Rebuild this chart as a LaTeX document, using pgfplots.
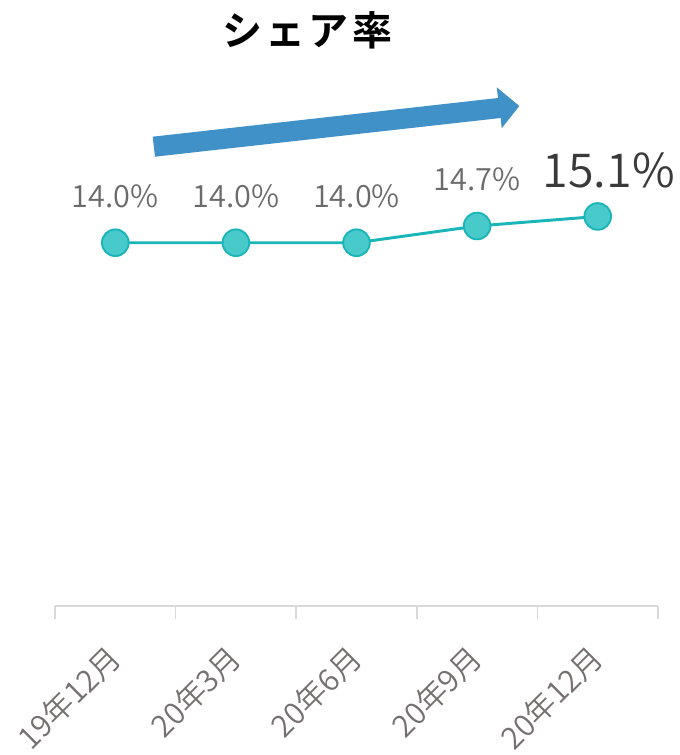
\documentclass[border=0pt]{standalone}
\usepackage{fontspec}
\usepackage{pgfplots}
\pgfplotsset{compat=1.18}
\setmainfont{Noto Sans CJK JP}
\newfontfamily\lightfont{Noto Sans CJK JP}[UprightFont={* DemiLight}]
\newfontfamily\boldcjk{Noto Sans CJK JP}[UprightFont={* Bold}]
\definecolor{linecol}{HTML}{1AB5B8}
\definecolor{markfill}{HTML}{48C9CA}
\definecolor{arrowblue}{HTML}{4191C9}
\definecolor{labgray}{HTML}{6B6B6B}
\definecolor{darklab}{HTML}{3A3A3A}
\definecolor{tickgray}{HTML}{767171}
\definecolor{axisgray}{HTML}{D9D9D9}

\begin{document}
\begin{tikzpicture}
% picture frame in pixels of the reference (1px = 0.75pt)
\begin{scope}[x=0.75pt, y=-0.75pt]
  \useasboundingbox (0,0) rectangle (679,755);
  \node[font=\boldcjk\fontsize{30pt}{30pt}\selectfont, text=black] at (307,30.5)
    {シ\hspace{2.5pt}ェ\hspace{2.5pt}ア\hspace{2.5pt}率};
  \fill[arrowblue] (155,156.7) -- (152.7,136.7) -- (498,98) -- (496.7,87.3)
    -- (519.3,106) -- (501.7,128.3) -- (500.7,118) -- cycle;
\end{scope}

\begin{axis}[
  at={(41.25pt,-454.5pt)}, anchor=south west,
  scale only axis, width=452.25pt, height=380pt,
  xmin=-0.5, xmax=4.5, ymin=-1.2, ymax=20,
  axis x line=bottom, axis y line=none,
  x axis line style={-, draw=axisgray, line width=1.3pt},
  xtick={0,...,4},
  xticklabels={19年12月,20年3月,20年6月,20年9月,20年12月},
  major tick length=0pt,
  minor xtick={-0.5,0.5,1.5,2.5,3.5,4.5},
  minor tick length=9.75pt,
  tick align=outside,
  minor tick style={draw=axisgray, line width=1.3pt},
  xticklabel style={font=\lightfont\fontsize{23pt}{23pt}\selectfont, text=tickgray,
    inner sep=0pt, yshift=-34.5pt, xshift=-0.5pt, rotate=45, anchor=east},
  clip=false,
]
\addplot[linecol, line width=2.2pt, mark=*, mark size=10pt,
  mark options={fill=markfill, draw=linecol, line width=1.4pt}]
  coordinates {(0,14.0) (1,14.0) (2,14.0) (3,14.7) (4,15.1)};
\addplot[draw=none, mark=none, point meta=y,
  nodes near coords={\pgfmathprintnumber[fixed,fixed zerofill,precision=1,assume math mode=true]{\pgfplotspointmeta}\%},
  every node near coord/.append style={font=\lightfont\fontsize{23pt}{23pt}\selectfont,
    text=labgray, anchor=base, inner sep=0pt, yshift=26.5pt}]
  coordinates {(0,14.0) (1,14.0) (2,14.0) (3,14.7)};
\addplot[draw=none, mark=none, point meta=y,
  nodes near coords={\pgfmathprintnumber[fixed,fixed zerofill,precision=1,assume math mode=true]{\pgfplotspointmeta}\%},
  every node near coord/.append style={font=\lightfont\fontsize{35pt}{35pt}\selectfont,
    text=darklab, anchor=base, inner sep=0pt, yshift=22pt, xshift=8.25pt}]
  coordinates {(4,15.1)};
\end{axis}
\end{tikzpicture}
\end{document}
